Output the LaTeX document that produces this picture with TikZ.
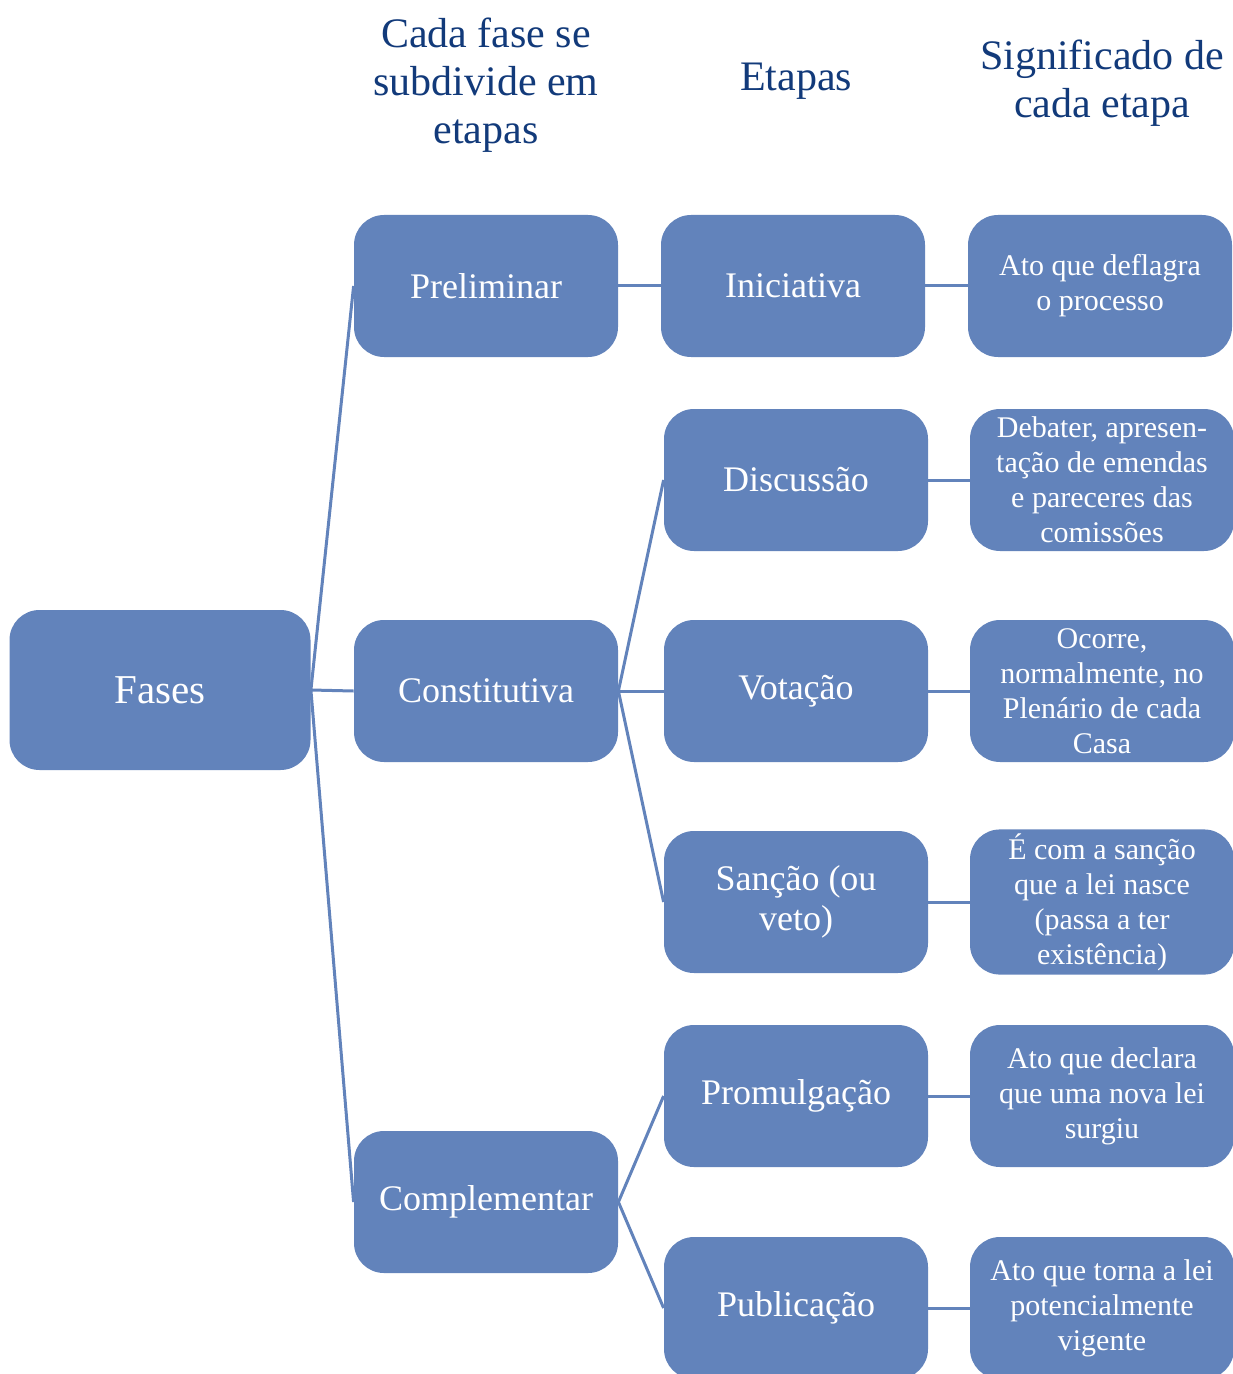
\documentclass[tikz,border=0pt]{standalone}
\usepackage{fontspec}
\setmainfont{Liberation Serif}
\definecolor{boxblue}{RGB}{98,131,187}
\definecolor{headblue}{RGB}{18,58,122}
\begin{document}
\begin{tikzpicture}[x=0.5pt,y=-0.5pt,
  box/.style={fill=boxblue, text=white, rounded corners=15pt, minimum width=132pt, minimum height=71pt, align=center, inner sep=2pt, font=\fontsize{18}{20}\selectfont},
  note/.style={box, font=\fontsize{15}{17.5}\selectfont},
  head/.style={text=headblue, align=center, font=\fontsize{21}{24}\selectfont},
  link/.style={draw=boxblue, line width=1.5pt}]
\useasboundingbox (0,0) rectangle (1232,1374);

% Titles
\node[head] (hfase) at (486,85) {Cada fase se\\subdivide em\\etapas};
\node[head] (hetapa) at (796,81) {Etapas};
\node[head] (hsig) at (1102,83) {Significado de\\cada etapa};

% Fases
\node[box, minimum width=150.5pt, minimum height=80pt, font=\fontsize{20.5}{24}\selectfont] (fases) at (160,690) {Fases};
\node[box] (prelim) at (486,286) {Preliminar};
\node[box] (constit) at (486,691) {Constitutiva};
\node[box] (complem) at (486,1202) {Complementar};

% Etapas
\node[box] (inic) at (793,286) {Iniciativa};
\node[box] (disc) at (796,480) {Discussão};
\node[box] (vot) at (796,691) {Votação};
\node[box] (sanc) at (796,902) {Sanção (ou\\veto)};
\node[box] (prom) at (796,1096) {Promulgação};
\node[box] (publ) at (796,1308) {Publicação};

% Significados
\node[note] (sinic) at (1100,286) {Ato que deflagra\\o processo};
\node[note] (sdisc) at (1102,480) {Debater, apresen-\\tação de emendas\\e pareceres das\\comissões};
\node[note] (svot) at (1102,691) {Ocorre,\\normalmente, no\\Plenário de cada\\Casa};
\node[note] (ssanc) at (1102,902) {É com a sanção\\que a lei nasce\\(passa a ter\\existência)};
\node[note] (sprom) at (1102,1096) {Ato que declara\\que uma nova lei\\surgiu};
\node[note] (spubl) at (1102,1308) {Ato que torna a lei\\potencialmente\\vigente};

% Links
\foreach \a/\b in {fases/prelim, fases/constit, fases/complem,
  prelim/inic, constit/disc, constit/vot, constit/sanc, complem/prom, complem/publ,
  inic/sinic, disc/sdisc, vot/svot, sanc/ssanc, prom/sprom, publ/spubl}
  \draw[link] (\a.east) -- (\b.west);
\end{tikzpicture}
\end{document}
